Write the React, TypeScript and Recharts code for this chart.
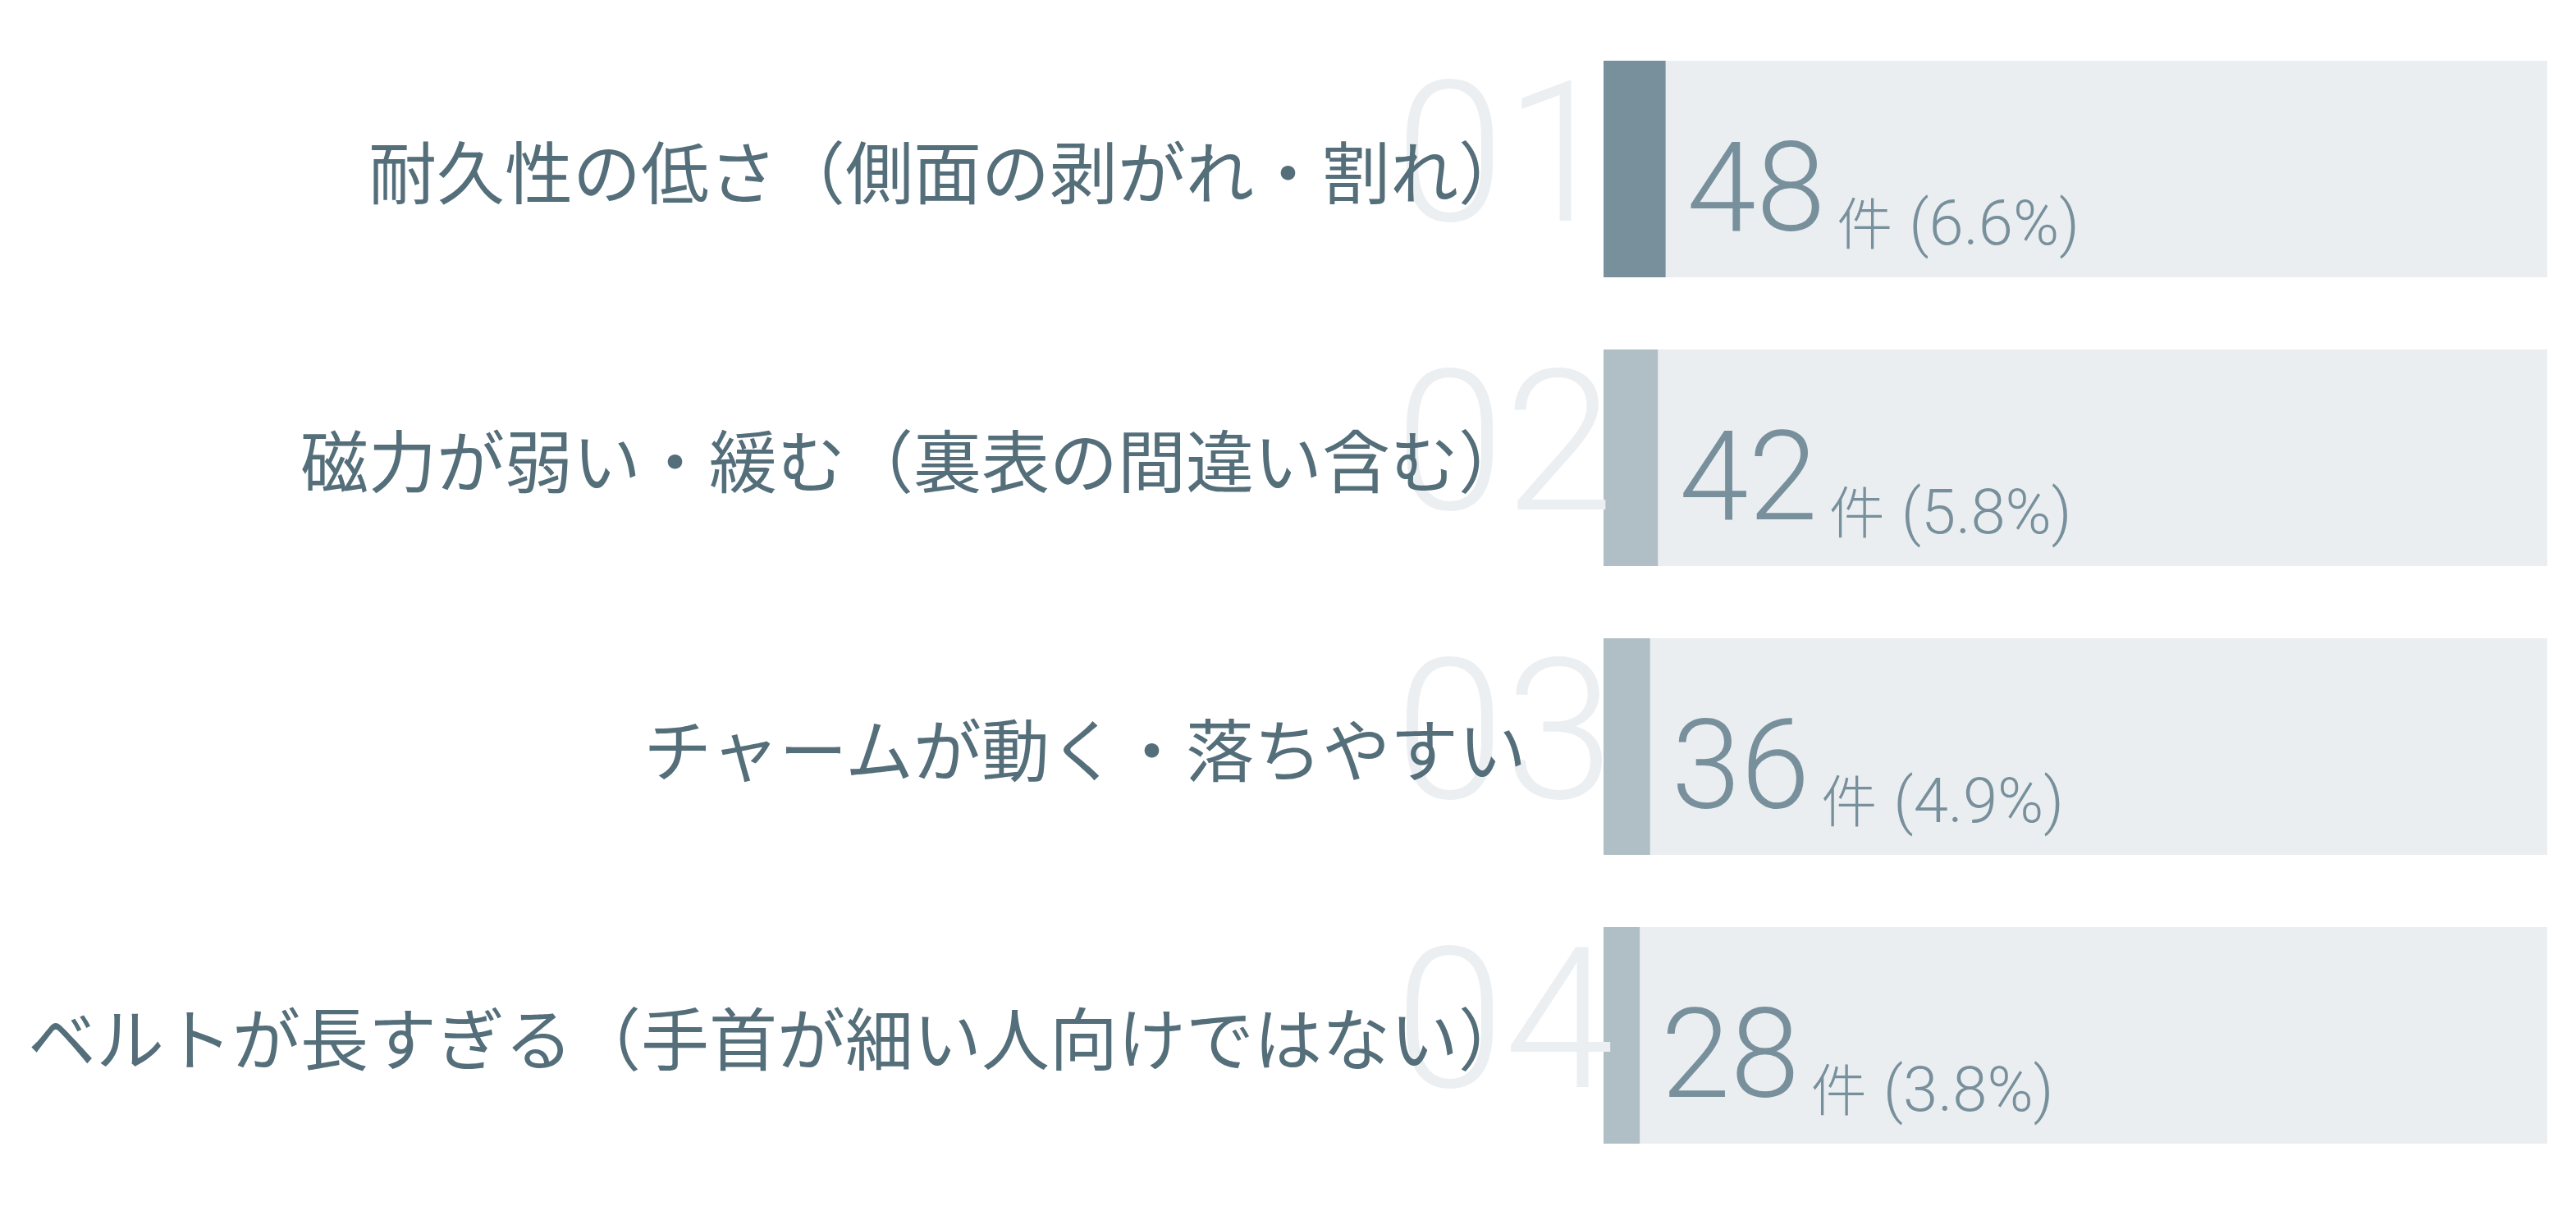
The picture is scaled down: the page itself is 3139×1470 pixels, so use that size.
import React from "react";
import { BarChart, Bar, XAxis, YAxis, Cell, LabelList } from "recharts";

const categories = [
  "耐久性の低さ（側面の剥がれ・割れ）",
  "磁力が弱い・緩む（裏表の間違い含む）",
  "チャームが動く・落ちやすい",
  "ベルトが長すぎる（手首が細い人向けではない）",
];
const counts = [48, 42, 36, 28];
const percents = ["6.6%", "5.8%", "4.9%", "3.8%"];
const ranks = ["01", "02", "03", "04"];
const totalCount = 730;

const data = categories.map((name, i) => ({ name, value: counts[i], idx: i }));

const LABEL_COLOR = "#546e7a";
const VALUE_COLOR = "#78909c";
const GHOST_COLOR = "#eceff1";
const BG_COLOR = "#eaeef1";
const TOP_FILL = "#78909c";
const REST_FILL = "#b0bec5";

const CategoryTick = (props: any) => {
  const { x, y, payload } = props;
  const i = payload.index;
  return (
    <g>
      <text
        x={x - 254}
        y={y + 63}
        fill={GHOST_COLOR}
        fontFamily="Roboto, 'Open Sans', sans-serif"
        fontWeight={300}
        fontSize={240}
        textAnchor="start"
      >
        {ranks[i]}
      </text>
      <text
        x={x - 94}
        y={y}
        fill={LABEL_COLOR}
        fontFamily="'Noto Sans CJK JP', sans-serif"
        fontSize={83}
        textAnchor="end"
        dominantBaseline="central"
      >
        {payload.value}
      </text>
    </g>
  );
};

const ValueLabel = (props: any) => {
  const { x, y, width, height, index } = props;
  const cy = y + height / 2;
  return (
    <text
      x={x + width + 26}
      y={cy + 75}
      fill={VALUE_COLOR}
      fontFamily="Roboto, 'Open Sans', sans-serif"
      fontWeight={300}
    >
      <tspan fontSize={152}>{counts[index]}</tspan>
      <tspan fontSize={68} dx={14} dy={17} fontFamily="'Noto Sans CJK JP', sans-serif">
        件
      </tspan>
      <tspan fontSize={76} dx={20}>
        ({percents[index]})
      </tspan>
    </text>
  );
};

export default function App() {
  return (
    <div style={{ width: 3123, height: 1454, background: "#ffffff" }}>
      <BarChart
        width={3123}
        height={1454}
        data={data}
        layout="vertical"
        margin={{ top: 22, right: 27, bottom: 24, left: 0 }}
        barCategoryGap="25%"
      >
        <XAxis type="number" domain={[0, totalCount]} hide />
        <YAxis
          type="category"
          dataKey="name"
          width={1946}
          axisLine={false}
          tickLine={false}
          tickSize={0}
          tickMargin={0}
          tick={<CategoryTick />}
          interval={0}
        />
        <Bar
          dataKey="value"
          barSize={264}
          background={{ fill: BG_COLOR }}
          isAnimationActive={false}
        >
          {data.map((d, i) => (
            <Cell key={d.name} fill={i === 0 ? TOP_FILL : REST_FILL} />
          ))}
          <LabelList dataKey="value" content={<ValueLabel />} />
        </Bar>
      </BarChart>
    </div>
  );
}
